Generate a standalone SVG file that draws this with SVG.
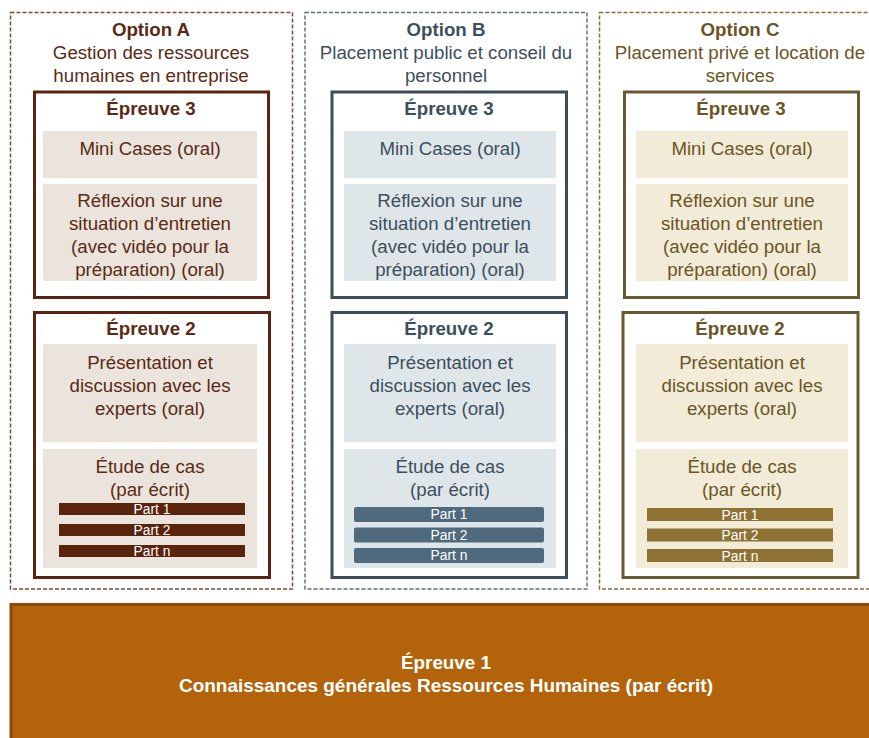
<svg xmlns="http://www.w3.org/2000/svg" width="869" height="738" viewBox="0 0 869 738">
<style>
text{font-family:"Liberation Sans",Arial,sans-serif;text-anchor:middle}
.t{font-size:18.7px}
.b{font-size:18.7px;font-weight:bold}
.p{font-size:13.8px;fill:#fff}
.dash{fill:none;stroke-width:1.5;stroke-dasharray:4 2}
.ep{fill:#fff;stroke-width:3}
.A{fill:#5B2A14}.B{fill:#3C4F5C}.C{fill:#6A5624}
.fA{fill:#EAE4DC}.fB{fill:#DFE6EA}.fC{fill:#F2EBD8}
</style>
<rect width="869" height="738" fill="#fff"/>
<g id="optionA">
<rect class="dash" x="10.5" y="12.5" width="282" height="576.5" stroke="#7E4A3A"/>
<text class="b A" x="151" y="36">Option A</text>
<text class="t A" x="151" y="58.5">Gestion des ressources</text>
<text class="t A" x="151" y="81.5">humaines en entreprise</text>
<g id="A-epreuve3">
<rect class="ep" x="34.5" y="92" width="234" height="205.5" stroke="#5A2410"/>
<text class="b A" x="151" y="115">Épreuve 3</text>
<rect class="fA" x="43" y="131" width="214" height="47"/>
<text class="t A" x="150" y="155">Mini Cases (oral)</text>
<rect class="fA" x="43" y="184" width="214" height="97"/>
<text class="t A" x="150" y="207">Réflexion sur une</text>
<text class="t A" x="150" y="230">situation d’entretien</text>
<text class="t A" x="150" y="253">(avec vidéo pour la</text>
<text class="t A" x="150" y="276">préparation) (oral)</text>
</g>
<g id="A-epreuve2">
<rect class="ep" x="34.5" y="312.5" width="235" height="265" stroke="#5A2410"/>
<text class="b A" x="151" y="335">Épreuve 2</text>
<rect class="fA" x="43" y="344" width="214" height="98"/>
<text class="t A" x="150" y="368.5">Présentation et</text>
<text class="t A" x="150" y="391.5">discussion avec les</text>
<text class="t A" x="150" y="414.5">experts (oral)</text>
<rect class="fA" x="43" y="449" width="214" height="119"/>
<text class="t A" x="150" y="473">Étude de cas</text>
<text class="t A" x="150" y="496">(par écrit)</text>
<rect x="59" y="503" width="186" height="12" fill="#5A230C"/>
<text class="p" x="152" y="514">Part 1</text>
<rect x="59" y="524" width="186" height="12" fill="#5A230C"/>
<text class="p" x="152" y="535">Part 2</text>
<rect x="59" y="545" width="186" height="12" fill="#5A230C"/>
<text class="p" x="152" y="556">Part n</text>
</g>
</g>
<g id="optionB">
<rect class="dash" x="305" y="12.5" width="282" height="576.5" stroke="#5C717E"/>
<text class="b B" x="446" y="36">Option B</text>
<text class="t B" x="446" y="58.5">Placement public et conseil du</text>
<text class="t B" x="446" y="81.5">personnel</text>
<g id="B-epreuve3">
<rect class="ep" x="332" y="92" width="234.5" height="205.5" stroke="#3B4D59"/>
<text class="b B" x="449" y="115">Épreuve 3</text>
<rect class="fB" x="344" y="131" width="212" height="47"/>
<text class="t B" x="450" y="155">Mini Cases (oral)</text>
<rect class="fB" x="344" y="184" width="212" height="97"/>
<text class="t B" x="450" y="207">Réflexion sur une</text>
<text class="t B" x="450" y="230">situation d’entretien</text>
<text class="t B" x="450" y="253">(avec vidéo pour la</text>
<text class="t B" x="450" y="276">préparation) (oral)</text>
</g>
<g id="B-epreuve2">
<rect class="ep" x="332" y="312.5" width="234.5" height="265" stroke="#3B4D59"/>
<text class="b B" x="449" y="335">Épreuve 2</text>
<rect class="fB" x="344" y="344" width="212" height="98"/>
<text class="t B" x="450" y="368.5">Présentation et</text>
<text class="t B" x="450" y="391.5">discussion avec les</text>
<text class="t B" x="450" y="414.5">experts (oral)</text>
<rect class="fB" x="344" y="449" width="212" height="119"/>
<text class="t B" x="450" y="473">Étude de cas</text>
<text class="t B" x="450" y="496">(par écrit)</text>
<rect x="354" y="507" width="190" height="15" rx="2" fill="#4F6A7C"/>
<text class="p" x="449" y="519">Part 1</text>
<rect x="354" y="527.5" width="190" height="15" rx="2" fill="#4F6A7C"/>
<text class="p" x="449" y="539.5">Part 2</text>
<rect x="354" y="548" width="190" height="15" rx="2" fill="#4F6A7C"/>
<text class="p" x="449" y="560">Part n</text>
</g>
</g>
<g id="optionC">
<rect class="dash" x="599.5" y="12.5" width="282" height="576.5" stroke="#85703C"/>
<text class="b C" x="740" y="36">Option C</text>
<text class="t C" x="740" y="58.5">Placement privé et location de</text>
<text class="t C" x="740" y="81.5">services</text>
<g id="C-epreuve3">
<rect class="ep" x="624.5" y="92" width="234" height="205.5" stroke="#6B5A30"/>
<text class="b C" x="741" y="115">Épreuve 3</text>
<rect class="fC" x="636" y="131" width="212" height="47"/>
<text class="t C" x="742" y="155">Mini Cases (oral)</text>
<rect class="fC" x="636" y="184" width="212" height="97"/>
<text class="t C" x="742" y="207">Réflexion sur une</text>
<text class="t C" x="742" y="230">situation d’entretien</text>
<text class="t C" x="742" y="253">(avec vidéo pour la</text>
<text class="t C" x="742" y="276">préparation) (oral)</text>
</g>
<g id="C-epreuve2">
<rect class="ep" x="623" y="312.5" width="235" height="265" stroke="#6B5A30"/>
<text class="b C" x="740" y="335">Épreuve 2</text>
<rect class="fC" x="636" y="344" width="212" height="98"/>
<text class="t C" x="742" y="368.5">Présentation et</text>
<text class="t C" x="742" y="391.5">discussion avec les</text>
<text class="t C" x="742" y="414.5">experts (oral)</text>
<rect class="fC" x="636" y="449" width="212" height="119"/>
<text class="t C" x="742" y="473">Étude de cas</text>
<text class="t C" x="742" y="496">(par écrit)</text>
<rect x="647" y="508" width="186" height="13" fill="#8D7233"/>
<text class="p" x="740" y="519.5">Part 1</text>
<rect x="647" y="528.5" width="186" height="13" fill="#8D7233"/>
<text class="p" x="740" y="540">Part 2</text>
<rect x="647" y="549" width="186" height="13" fill="#8D7233"/>
<text class="p" x="740" y="560.5">Part n</text>
</g>
</g>
<g id="epreuve1">
<rect x="11" y="604.5" width="870" height="140" fill="#B3630A" stroke="#8A4A06" stroke-width="3"/>
<text class="b" x="446" y="669" fill="#fff" textLength="90" lengthAdjust="spacingAndGlyphs">Épreuve 1</text>
<text class="b" x="446" y="692" fill="#fff" textLength="534" lengthAdjust="spacingAndGlyphs">Connaissances générales Ressources Humaines (par écrit)</text>
</g>
<g id="connectors"/>
</svg>
